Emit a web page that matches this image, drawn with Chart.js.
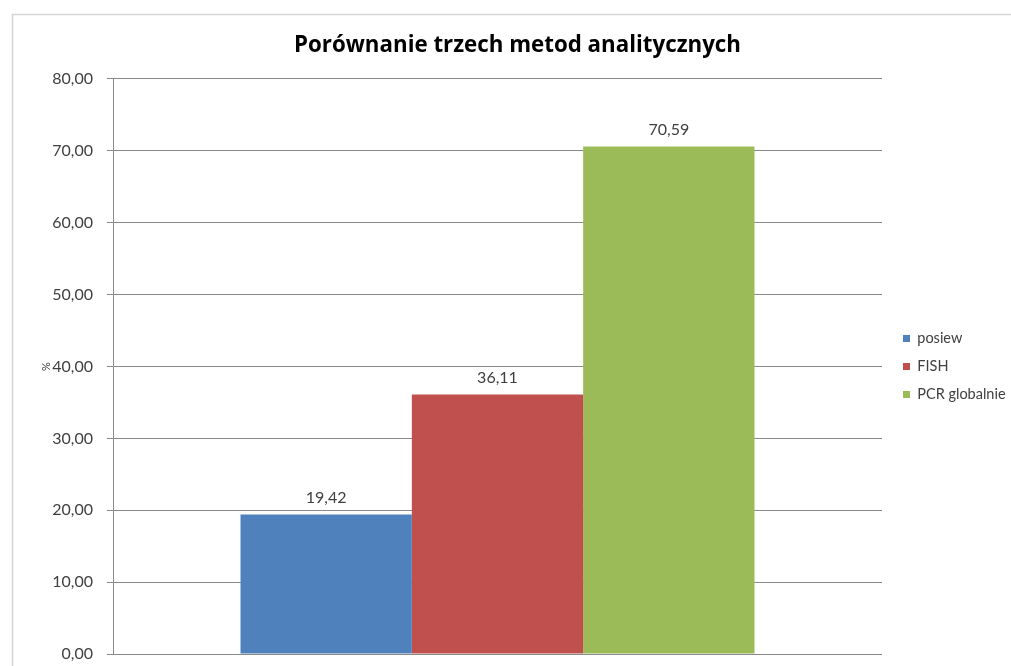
<!DOCTYPE html>
<html><head><meta charset="utf-8">
<script src="https://cdn.jsdelivr.net/npm/chart.js@4"></script>
<style>html,body{margin:0;padding:0;background:#fff}#wrap{width:1011px;height:666px;position:relative}</style>
</head><body><div id="wrap"><canvas id="c"></canvas></div>
<script>
const categories = [''];
const seriesNames = ['posiew', 'FISH', 'PCR globalnie'];
const posiewValues = [19.42];
const fishValues = [36.11];
const pcrValues = [70.59];
const seriesColors = ['#4F81BD', '#C0504D', '#9BBB59'];
const chartTitle = 'Porównanie trzech metod analitycznych';
const yAxisTitle = '%';
const yMin = 0, yMax = 80, yStep = 10;

const fmt = v => Number(v).toFixed(2).replace('.', ',');

const framePlugin = {
  id: 'frame',
  beforeDraw(chart) {
    const ctx = chart.ctx;
    ctx.save();
    ctx.strokeStyle = '#d4d4d4';
    ctx.lineWidth = 1.5;
    ctx.strokeRect(12.5, 14.5, 1200, 800);
    ctx.restore();
  }
};

const valueLabels = {
  id: 'valueLabels',
  afterDatasetsDraw(chart) {
    const ctx = chart.ctx;
    ctx.save();
    ctx.font = '16px Lato';
    ctx.fillStyle = '#404040';
    ctx.textAlign = 'center';
    ctx.textBaseline = 'middle';
    chart.data.datasets.forEach((ds, i) => {
      const meta = chart.getDatasetMeta(i);
      meta.data.forEach((el, j) => {
        ctx.fillText(fmt(ds.data[j]), el.x, el.y - 17);
      });
    });
    ctx.restore();
  }
};

Chart.defaults.font.family = 'Lato';
Chart.defaults.color = '#404040';

new Chart(document.getElementById('c'), {
  type: 'bar',
  data: {
    labels: categories,
    datasets: [
      { label: seriesNames[0], data: posiewValues, backgroundColor: seriesColors[0] },
      { label: seriesNames[1], data: fishValues, backgroundColor: seriesColors[1] },
      { label: seriesNames[2], data: pcrValues, backgroundColor: seriesColors[2] }
    ]
  },
  options: {
    responsive: true,
    maintainAspectRatio: false,
    animation: false,
    layout: { padding: { left: 24, right: 0, top: 0, bottom: 12 } },
    datasets: { bar: { categoryPercentage: 0.6684, barPercentage: 1, borderWidth: 0 } },
    plugins: {
      title: {
        display: true, text: chartTitle, color: '#000',
        font: { size: 22.3, weight: 'bold', family: 'Open Sans' },
        padding: { top: 32.5, bottom: 19.7 }
      },
      legend: {
        position: 'right', align: 'center', maxWidth: 121.5, fullSize: false,
        labels: { boxWidth: 7, boxHeight: 7, padding: 13.5, color: '#404040', font: { size: 14.5, family: 'Lato' } }
      },
      tooltip: { enabled: false }
    },
    scales: {
      x: { display: false },
      y: {
        min: yMin, max: yMax,
        afterFit(s) { s.width = 89; s.paddingTop = 0; s.paddingBottom = 0; },
        ticks: { stepSize: yStep, padding: 14, color: '#404040', font: { size: 16 }, callback: v => fmt(v) },
        grid: { color: '#8a8a8a', lineWidth: 1, tickLength: 6, drawTicks: true },
        border: { display: true, color: '#8a8a8a', width: 1 },
        title: { display: true, text: yAxisTitle, color: '#404040', font: { size: 11 }, padding: { top: 15.4, bottom: 0 } }
      },
      yR: {
        position: 'right', display: true,
        afterFit(s) { s.width = 7.5; s.paddingTop = 0; s.paddingBottom = 0; },
        ticks: { display: false },
        grid: { display: false, drawTicks: false },
        border: { display: false }
      }
    }
  },
  plugins: [framePlugin, valueLabels]
});
</script></body></html>
